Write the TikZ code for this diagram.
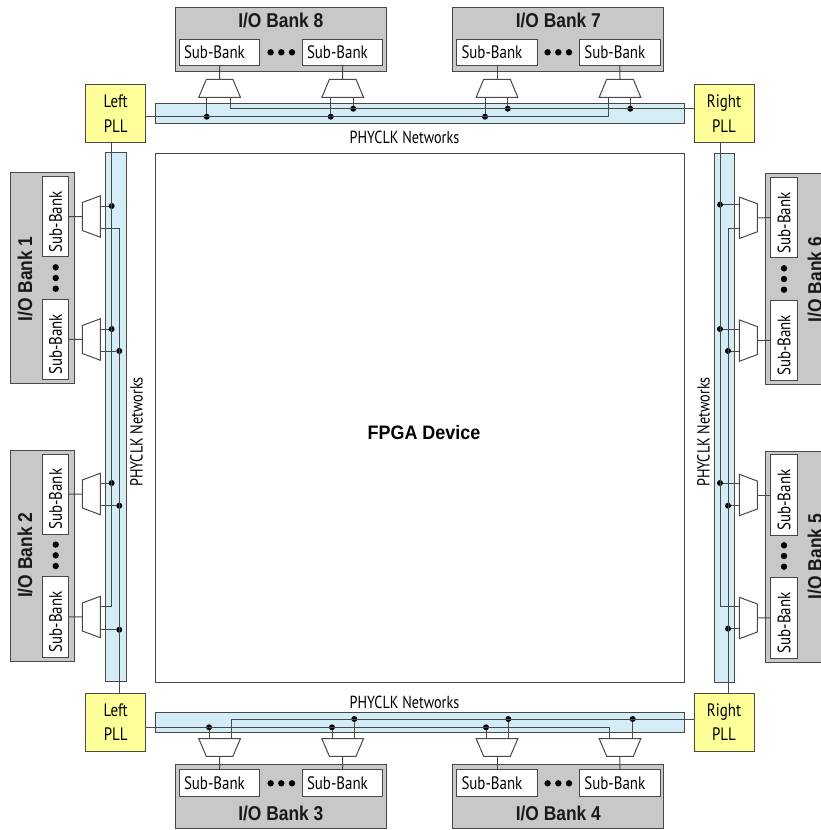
\documentclass[tikz,border=0pt]{standalone}
\usepackage{fontspec}
\setmainfont{PT Sans}
\newfontfamily\lblfont[FakeStretch=0.83]{PT Sans}
\newfontfamily\netfont[FakeStretch=0.81]{PT Sans}
\newfontfamily\ttlfont[FakeStretch=0.87]{Liberation Sans}
\newfontfamily\corefont[FakeStretch=0.92]{Liberation Sans}
\definecolor{ln}{HTML}{484848}
\definecolor{bankfill}{HTML}{C8C8C8}
\definecolor{barfill}{HTML}{D3ECF5}
\definecolor{pllfill}{HTML}{FFFF99}
\tikzset{
 base/.style={draw=ln,line width=1pt,inner sep=0pt,outer sep=0pt},
 bankH/.style={base,fill=bankfill,minimum width=211pt,minimum height=64pt},
 bankV/.style={base,fill=bankfill,minimum width=64.4pt,minimum height=211pt},
 subbank/.style={base,fill=white,minimum width=80.4pt,minimum height=26.4pt,
   text width=71pt,inner xsep=4.7pt,align=left,font=\lblfont\fontsize{18}{18}\selectfont},
 subV/.style={subbank,rotate=90},
 title/.style={font=\ttlfont\bfseries\fontsize{20}{20}\selectfont,text=black!90,inner sep=0pt},
 titleV/.style={title,rotate=90},
 pll/.style={base,fill=pllfill,minimum width=60pt,minimum height=58pt,align=center,
   font=\lblfont\fontsize{18}{24.6}\selectfont},
 busbar/.style={base,fill=barfill},
 nodedot/.style={circle,fill=black,minimum size=6pt,inner sep=0pt,outer sep=0pt},
 wire/.style={draw=ln,line width=1pt},
 muxs/.style={draw=ln,line width=1pt,fill=white,line join=miter},
 netlbl/.style={font=\netfont\fontsize{17.5}{17}\selectfont,inner sep=0pt},
}
% mux with the narrow side at one end
\newcommand\muxV[4]{% wide side on x=#3, narrow on x=#4, centre y=#2
  \coordinate (#1-w) at (#3,#2);\coordinate (#1-n) at (#4,#2);
  \draw[muxs] (#3,#2-20.7) -- (#3,#2+20.7) -- (#4,#2+14) -- (#4,#2-14) -- cycle;}
\newcommand\muxH[4]{% wide side on y=#3, narrow on y=#4, centre x=#2
  \coordinate (#1-w) at (#2,#3);\coordinate (#1-n) at (#2,#4);
  \draw[muxs] (#2-20.8,#3) -- (#2+20.8,#3) -- (#2+13.3,#4) -- (#2-13.3,#4) -- cycle;}
\newcommand\ellH[2]{\fill (#1-10.7,#2) circle (3.2) (#1,#2) circle (3.2) (#1+10.7,#2) circle (3.2);}
\newcommand\ellV[2]{\fill (#1,#2-10.7) circle (3.2) (#1,#2) circle (3.2) (#1,#2+10.7) circle (3.2);}
\begin{document}
\begin{tikzpicture}[x=1pt,y=-1pt]
\useasboundingbox (0,0) rectangle (821,830);
% FPGA core
\node[base,fill=white,minimum width=528.3pt,minimum height=528.3pt,anchor=north west] (fpga) at (155.7,153.7) {};
\node[font=\corefont\bfseries\fontsize{19.5}{20}\selectfont,inner sep=0pt] (fpgat) at (424,433) {FPGA Device};
% Clock network bars
\node[busbar,minimum width=528.3pt,minimum height=20pt,anchor=north west] (barT) at (155.7,103.7) {};
\node[busbar,minimum width=528.3pt,minimum height=20.3pt,anchor=north west] (barB) at (155.7,712) {};
\node[busbar,minimum width=20.3pt,minimum height=528.3pt,anchor=north west] (barL) at (105.7,152.7) {};
\node[busbar,minimum width=20pt,minimum height=528.6pt,anchor=north west] (barR) at (714,153.7) {};
% PLLs
\node[pll,anchor=north west] (pllTL) at (85.7,84.7) {Left\\PLL};
\node[pll,anchor=north west] (pllTR) at (694,84.7) {Right\\PLL};
\node[pll,anchor=north west] (pllBL) at (85.7,693) {Left\\PLL};
\node[pll,anchor=north west] (pllBR) at (694,693) {Right\\PLL};
% Network labels
\node[netlbl] (netT) at (404.5,137) {PHYCLK Networks};
\node[netlbl] (netB) at (404.5,702) {PHYCLK Networks};
\node[netlbl,rotate=90] (netL) at (136.5,432) {PHYCLK Networks};
\node[netlbl,rotate=90] (netR) at (703.5,432) {PHYCLK Networks};
% Banks
\node[bankH] (b8) at (281.2,39.3) {};
\node[bankH] (b7) at (558.35,39.3) {};
\node[bankH] (b3) at (281.2,796) {};
\node[bankH] (b4) at (558.35,796) {};
\node[bankV] (b1) at (42.5,278.2) {};
\node[bankV] (b2) at (42.5,555.5) {};
\node[bankV] (b6) at (797.5,279.15) {};
\node[bankV] (b5) at (797.5,556.5) {};
\node[title] (t8) at (280.8,20) {I/O Bank 8};
\node[title] (t7) at (558.3,20) {I/O Bank 7};
\node[title] (t3) at (280.8,813.5) {I/O Bank 3};
\node[title] (t4) at (558.3,813.5) {I/O Bank 4};
\node[titleV] (t1) at (25,279) {I/O Bank 1};
\node[titleV] (t2) at (25,555.3) {I/O Bank 2};
\node[titleV] (t6) at (815,279.5) {I/O Bank 6};
\node[titleV] (t5) at (815,556.5) {I/O Bank 5};
% Sub-banks
\node[subbank] (s8a) at (219.5,52.5) {Sub-Bank};
\node[subbank] (s8b) at (342.5,52.5) {Sub-Bank};
\node[subbank] (s7a) at (497,52.5) {Sub-Bank};
\node[subbank] (s7b) at (619.85,52.5) {Sub-Bank};
\node[subbank] (s3a) at (219.5,783.15) {Sub-Bank};
\node[subbank] (s3b) at (342.5,783.15) {Sub-Bank};
\node[subbank] (s4a) at (497,783.15) {Sub-Bank};
\node[subbank] (s4b) at (619.85,783.15) {Sub-Bank};
\node[subV] (s1a) at (55.5,216.7) {Sub-Bank};
\node[subV] (s1b) at (55.5,339.3) {Sub-Bank};
\node[subV] (s2a) at (55.5,494.2) {Sub-Bank};
\node[subV] (s2b) at (55.5,616.85) {Sub-Bank};
\node[subV] (s6a) at (784.15,217.7) {Sub-Bank};
\node[subV] (s6b) at (784.15,340.3) {Sub-Bank};
\node[subV] (s5a) at (784.15,495) {Sub-Bank};
\node[subV] (s5b) at (784.15,617.85) {Sub-Bank};
\ellH{281.3}{52.3}\ellH{558.3}{52.3}\ellH{281.3}{783.3}\ellH{558.3}{783.3}
\ellV{55.7}{278}\ellV{55.7}{555.3}\ellV{784}{279}\ellV{784}{556}
% Muxes
\muxH{m8a}{219.6}{97.3}{79.3}\muxH{m8b}{342.7}{97.3}{79.3}
\muxH{m7a}{497}{97.3}{79.3}\muxH{m7b}{620}{97.3}{79.3}
\muxH{m3a}{219.6}{738.7}{756.3}\muxH{m3b}{342.7}{738.7}{756.3}
\muxH{m4a}{497}{738.7}{756.3}\muxH{m4b}{620}{738.7}{756.3}
\muxV{m1a}{216.5}{100.3}{82.3}\muxV{m1b}{339.5}{100.3}{82.3}
\muxV{m2a}{494}{100.3}{82.3}\muxV{m2b}{617}{100.3}{82.3}
\muxV{m6a}{217.8}{739.3}{757.3}\muxV{m6b}{340.6}{739.3}{757.3}
\muxV{m5a}{495}{739.3}{757.3}\muxV{m5b}{618}{739.3}{757.3}
% Free corners of the wires
\coordinate (c8) at (230.3,97.3);
\coordinate (c7) at (608.3,97.3);
\coordinate (c3) at (231.3,738.7);
\coordinate (c4) at (609.3,738.7);
\coordinate (c1) at (100.3,228.3);
\coordinate (c2) at (100.3,606);
\coordinate (c6) at (739.3,228.3);
\coordinate (c5) at (739.3,606);
% Junction dots
\node[nodedot] (d8a) at (206.7,116.7) {};
\node[nodedot] (d8b) at (330.7,116.7) {};
\node[nodedot] (d8c) at (353.3,108.7) {};
\node[nodedot] (d7a) at (485,116.7) {};
\node[nodedot] (d7b) at (507.7,108.7) {};
\node[nodedot] (d7c) at (630.3,108.7) {};
\node[nodedot] (d3a) at (209,727.3) {};
\node[nodedot] (d3b) at (332,727.3) {};
\node[nodedot] (d3c) at (354.3,719) {};
\node[nodedot] (d4a) at (486,727.3) {};
\node[nodedot] (d4b) at (508.3,719) {};
\node[nodedot] (d4c) at (632.7,719) {};
\node[nodedot] (d1a) at (111.7,206) {};
\node[nodedot] (d1b) at (111.7,329) {};
\node[nodedot] (d1c) at (119.3,351) {};
\node[nodedot] (d2a) at (111.7,483) {};
\node[nodedot] (d2b) at (119.3,505.7) {};
\node[nodedot] (d2c) at (119.3,629.7) {};
\node[nodedot] (d6a) at (720,204.7) {};
\node[nodedot] (d6b) at (720,329) {};
\node[nodedot] (d6c) at (728,351) {};
\node[nodedot] (d5a) at (720,483) {};
\node[nodedot] (d5b) at (728,505.7) {};
\node[nodedot] (d5c) at (728,628.7) {};
\begin{scope}[every path/.style={wire}]
% Sub-bank to mux
\foreach \m/\s/\a in {m8a/s8a/south,m8b/s8b/south,m7a/s7a/south,m7b/s7b/south,
  m3a/s3a/north,m3b/s3b/north,m4a/s4a/north,m4b/s4b/north,
  m1a/s1a/south,m1b/s1b/south,m2a/s2a/south,m2b/s2b/south,
  m6a/s6a/north,m6b/s6b/north,m5a/s5a/north,m5b/s5b/north}
  {\draw (\s.\a) -- (\m-n);}
% Top networks
\draw (pllTL.east |- d8a) -| (c7);
\draw (c8) |- (pllTR.west |- d7c);
\foreach \d in {d8a,d8b,d8c,d7a,d7b,d7c} {\draw (\d) -- (\d |- c8);}
% Bottom networks
\draw (pllBL.east |- d3a) -| (c4);
\draw (c3) |- (pllBR.west |- d4c);
\foreach \d in {d3a,d3b,d3c,d4a,d4b,d4c} {\draw (\d) -- (\d |- c3);}
% Left networks
\draw (pllTL.south -| d1a) |- (c2);
\draw (c1) -| (pllBL.north -| d2c);
\foreach \d in {d1a,d1b,d1c,d2a,d2b,d2c} {\draw (\d) -- (\d -| c1);}
% Right networks
\draw (pllTR.south -| d6a) |- (c5);
\draw (c6) -| (pllBR.north -| d5c);
\foreach \d in {d6a,d6b,d6c,d5a,d5b,d5c} {\draw (\d) -- (\d -| c6);}
\end{scope}
\end{tikzpicture}
\end{document}
